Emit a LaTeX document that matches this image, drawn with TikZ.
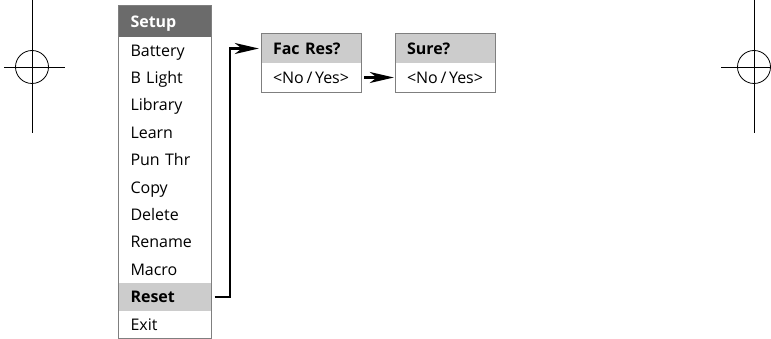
\documentclass[tikz,border=0pt]{standalone}
\usepackage{fontspec}
\setmainfont{Open Sans}
\usetikzlibrary{arrows.meta}
\usetikzlibrary{shapes}

\definecolor{headgray}{HTML}{6B6B6B}
\definecolor{selgray}{HTML}{CCCCCC}
\definecolor{framegray}{HTML}{7F7F7F}

\begin{document}
\begin{tikzpicture}[x=1pt,y=-1pt]
            \useasboundingbox (0,0) rectangle (771,339);
            \tikzstyle{menu item}=[rectangle,inner sep=0pt,minimum width=93pt,minimum height=27.4pt,
                text width=69pt,align=left,text height=11.5pt,text depth=0pt,node distance=27.4pt,
                font=\fontsize{16}{18}\selectfont]
            \tikzstyle{menu head}=[menu item,minimum height=30.7pt,fill=headgray,text=white,font=\fontsize{16}{18}\selectfont\bfseries]
            \tikzstyle{ask head}=[menu item,minimum width=99pt,text width=77pt,minimum height=29pt,fill=selgray,font=\fontsize{16}{18}\selectfont\bfseries]
            \tikzstyle{ask body}=[menu item,minimum width=99pt,text width=77pt,minimum height=29pt,node distance=29pt,font=\fontsize{16}{18}\selectfont]
            \tikzstyle{go}=[line width=2.4pt,-{Stealth[length=24pt,width=11pt,inset=7pt]}]

            % crosshairs
            \draw[line width=0.8pt] (32,0) -- (32,133) (4,67) -- (65,67);
            \draw[line width=0.8pt] (32,67) circle (16.5);
            \draw[line width=0.8pt] (754,0) -- (754,133) (721,67) -- (771,67);
            \draw[line width=0.8pt] (754,67) circle (16.5);

            % setup menu
            \node[menu head] (ST) at (165,21.35) {Setup};
            \node[menu item] (BA) [below of=ST,node distance=29.05pt] {Battery};
            \node[menu item] (BL) [below of=BA] {B Light};
            \node[menu item] (LI) [below of=BL] {Library};
            \node[menu item] (LE) [below of=LI] {Learn};
            \node[menu item] (PT) [below of=LE] {Pun Thr};
            \node[menu item] (CO) [below of=PT] {Copy};
            \node[menu item] (DE) [below of=CO] {Delete};
            \node[menu item] (RN) [below of=DE] {Rename};
            \node[menu item] (MA) [below of=RN] {Macro};
            \node[menu item,fill=selgray,font=\fontsize{16}{18}\selectfont\bfseries] (RS) [below of=MA] {Reset};
            \node[menu item] (EX) [below of=RS] {Exit};
            \draw[framegray,line width=0.8pt] (ST.north west) rectangle (EX.south east);

            % questions
            \node[ask head] (FR) at (311.5,48.5) {Fac Res?};
            \node[ask body] (FRyn) [below of=FR] {\mbox{<No\,/\,Yes>}};
            \draw[framegray,line width=0.8pt] (FR.north west) rectangle (FRyn.south east);
            \node[ask head] (SR) at (445.5,48.5) {Sure?};
            \node[ask body] (SRyn) [below of=SR] {\mbox{<No\,/\,Yes>}};
            \draw[framegray,line width=0.8pt] (SR.north west) rectangle (SRyn.south east);

            \draw[go,shorten >=3pt] ([xshift=3pt]RS.east) -- ++(15pt,0) |- (FR.west);
            \draw[go,shorten >=2pt,shorten <=3pt] (FRyn.east) -- (SRyn.west);
        \end{tikzpicture}
\end{document}
